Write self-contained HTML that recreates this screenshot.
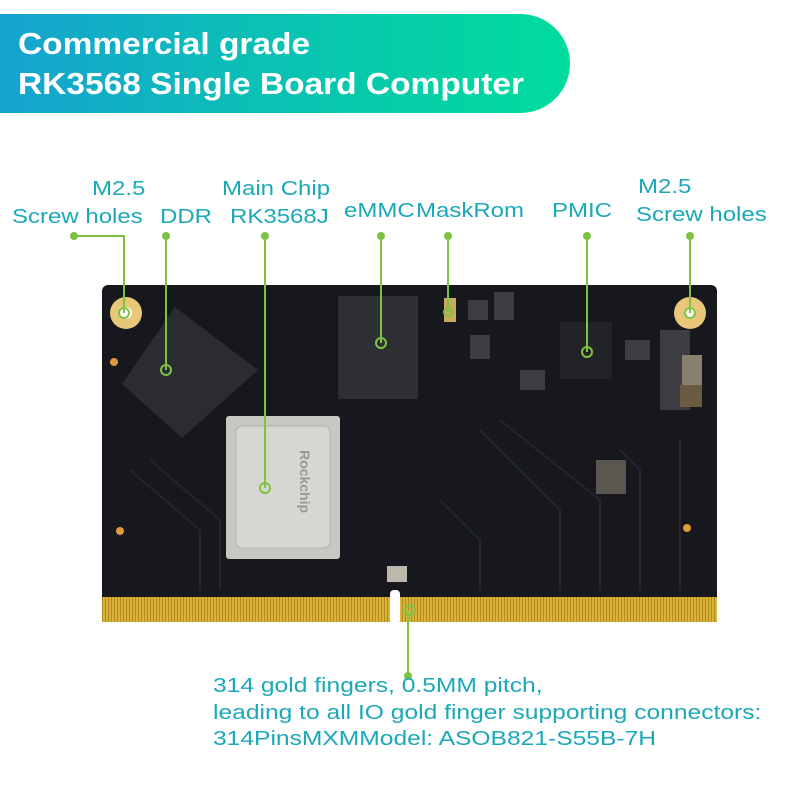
<!DOCTYPE html>
<html><head><meta charset="utf-8"><style>
body{margin:0;width:800px;height:800px;background:#fff;position:relative;overflow:hidden;font-family:"Liberation Sans",sans-serif}
.ban{position:absolute;left:0;top:14px;width:570px;height:99px;border-radius:0 50px 50px 0;background:linear-gradient(90deg,#16a2d0 0%,#0bc0b5 45%,#00dc9c 100%)}
.ban div{position:absolute;left:18px;color:#fff;font-weight:bold;font-size:31px;white-space:nowrap;transform:scaleX(1.08);transform-origin:left}
.lb{position:absolute;color:#1ba8b8;font-size:20px;white-space:nowrap;line-height:24px;transform:scaleX(1.2);transform-origin:left}
</style></head><body>
<div class="ban"><div style="top:12px">Commercial grade</div><div style="top:52px">RK3568 Single Board Computer</div></div>

<div class="lb" style="left:92px;top:177px">M2.5</div>
<div class="lb" style="left:12px;top:205px">Screw holes</div>
<div class="lb" style="left:160px;top:205px">DDR</div>
<div class="lb" style="left:222px;top:177px">Main Chip</div>
<div class="lb" style="left:230px;top:205px">RK3568J</div>
<div class="lb" style="left:344px;top:199px">eMMC</div>
<div class="lb" style="left:416px;top:199px">MaskRom</div>
<div class="lb" style="left:552px;top:199px">PMIC</div>
<div class="lb" style="left:638px;top:175px">M2.5</div>
<div class="lb" style="left:636px;top:203px">Screw holes</div>

<svg width="800" height="800" style="position:absolute;left:0;top:0">
<defs>
<pattern id="gold" width="3" height="10" patternUnits="userSpaceOnUse"><rect width="3" height="10" fill="#d9b23a"/><rect width="1" height="10" fill="#b28a1e"/></pattern>
</defs>
<rect x="102" y="285" width="615" height="335" rx="6" fill="#16181d"/>
<g stroke="#23262c" stroke-width="2" fill="none">
<path d="M150 460 L220 520 L220 590 M130 470 L200 530 L200 590 M480 430 L560 510 L560 590 M500 420 L600 500 L600 590 M620 450 L640 470 L640 590 M680 440 L680 590 M440 500 L480 540 L480 590"/>
</g>
<rect x="102" y="597" width="615" height="25" fill="url(#gold)"/>
<rect x="390" y="590" width="10" height="34" rx="4" fill="#fff"/>
<circle cx="126" cy="313" r="16" fill="#e8c67a"/><circle cx="126" cy="313" r="6" fill="#fff"/>
<circle cx="690" cy="313" r="16" fill="#e8c67a"/><circle cx="690" cy="313" r="6" fill="#fff"/>
<circle cx="114" cy="362" r="4" fill="#e39a3a"/><circle cx="120" cy="531" r="4" fill="#e39a3a"/><circle cx="687" cy="528" r="4" fill="#e39a3a"/>
<polygon points="175,307 258,370 182,438 122,384" fill="#2a2c31"/>
<rect x="338" y="296" width="80" height="103" fill="#2d2f33"/>
<rect x="226" y="416" width="114" height="143" rx="3" fill="#c9c7c2"/>
<rect x="236" y="426" width="94" height="122" rx="6" fill="#d8d6d1" stroke="#b3b1ab"/>
<text x="300" y="450" font-size="14" font-weight="bold" fill="#9a9894" transform="rotate(90 300 450)">Rockchip</text>
<rect x="560" y="322" width="52" height="57" fill="#222327"/>
<rect x="596" y="460" width="30" height="34" fill="#5a5650"/>
<rect x="387" y="566" width="20" height="16" fill="#bdb8ae"/>
<rect x="444" y="298" width="12" height="24" fill="#c9a95a"/>
<g fill="#3b3d42"><rect x="468" y="300" width="20" height="20"/><rect x="494" y="292" width="20" height="28"/><rect x="470" y="335" width="20" height="24"/><rect x="625" y="340" width="25" height="20"/><rect x="660" y="330" width="30" height="80"/><rect x="520" y="370" width="25" height="20"/></g>
<g fill="#8a8070"><rect x="682" y="355" width="20" height="30"/><rect x="680" y="385" width="22" height="22" fill="#6b5b40"/></g>
<g fill="none" stroke="#7dc242" stroke-width="2">
<polyline points="74,236 124,236 124,313"/>
<line x1="166" y1="236" x2="166" y2="370"/>
<line x1="265" y1="236" x2="265" y2="488"/>
<line x1="381" y1="236" x2="381" y2="343"/>
<line x1="448" y1="236" x2="448" y2="312"/>
<line x1="587" y1="236" x2="587" y2="352"/>
<line x1="690" y1="236" x2="690" y2="313"/>
<line x1="408" y1="610" x2="408" y2="676"/>
<circle cx="124" cy="313" r="5"/><circle cx="166" cy="370" r="5"/><circle cx="265" cy="488" r="5"/><circle cx="381" cy="343" r="5"/><circle cx="448" cy="312" r="4"/><circle cx="587" cy="352" r="5"/><circle cx="690" cy="313" r="5"/><circle cx="410" cy="610" r="5"/>
</g>
<g fill="#7dc242"><circle cx="74" cy="236" r="4"/><circle cx="166" cy="236" r="4"/><circle cx="265" cy="236" r="4"/><circle cx="381" cy="236" r="4"/><circle cx="448" cy="236" r="4"/><circle cx="587" cy="236" r="4"/><circle cx="690" cy="236" r="4"/><circle cx="408" cy="676" r="4"/></g>
</svg>

<div class="lb" style="left:213px;top:674px;transform:scaleX(1.23)">314 gold fingers, 0.5MM pitch,</div>
<div class="lb" style="left:213px;top:701px;transform:scaleX(1.23)">leading to all IO gold finger supporting connectors:</div>
<div class="lb" style="left:213px;top:727px;transform:scaleX(1.23)">314PinsMXMModel: ASOB821-S55B-7H</div>
</body></html>
